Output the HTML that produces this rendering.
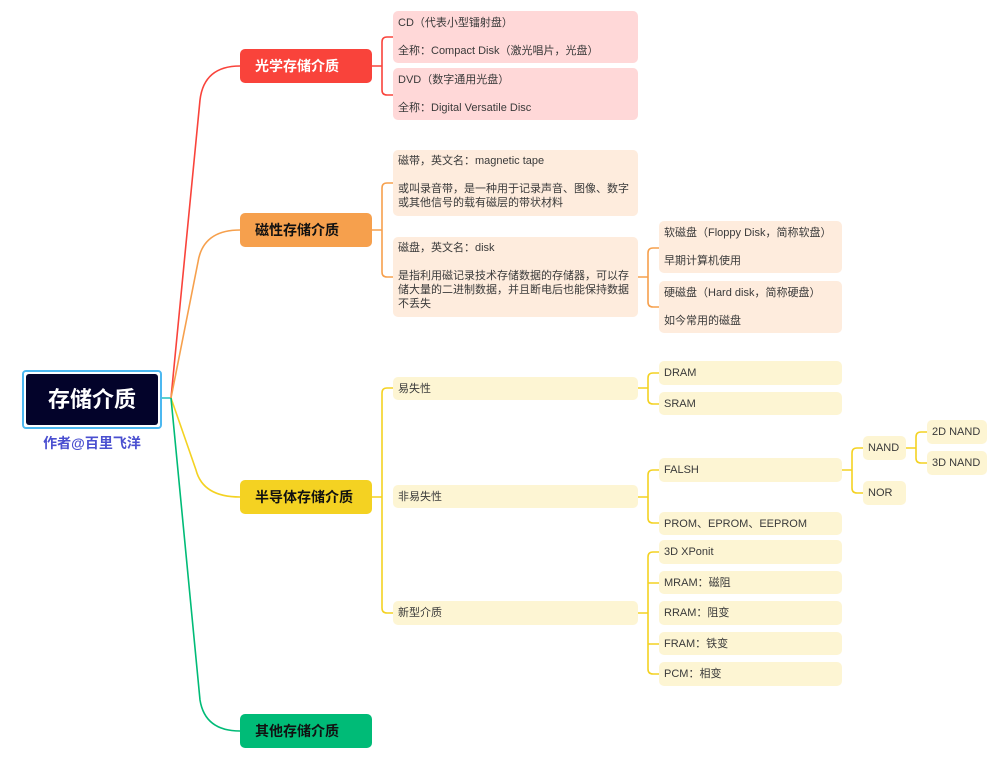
<!DOCTYPE html>
<html><head><meta charset="utf-8"><style>
body{margin:0;width:998px;height:758px;background:#fff;position:relative;overflow:hidden;font-family:"Liberation Sans","Noto Sans CJK SC",sans-serif;}
.b{position:absolute;border-radius:5px;box-sizing:border-box;font-size:11px;color:#3a3a3a;padding:0 0 0 5px;line-height:14px;}
.m{position:absolute;left:240px;width:132px;height:34px;border-radius:5px;font-size:14px;font-weight:bold;line-height:34px;padding-left:15px;box-sizing:border-box;}
.r{background:#ffd8d8}.o{background:#feecdd}.y{background:#fdf5d3;line-height:24px}
svg{position:absolute;left:0;top:0}
</style></head><body>
<svg width="998" height="758" fill="none" stroke-width="1.6">
<path d="M161,398 L171,398" stroke="#2ec4c4"/>
<path d="M171,398 L200,100 Q204,66 240,66" stroke="#f9433b"/>
<path d="M171,398 L198,262 Q203,230 240,230" stroke="#f6a04d"/>
<path d="M171,398 L196,470 Q203,497 240,497" stroke="#f4d222"/>
<path d="M171,398 L200,700 Q205,731 240,731" stroke="#00bb77"/>
<g stroke="#f9433b"><path d="M372,66 H382 M393,37 H387 Q382,37 382,42 V90 Q382,95 387,95 H393"/></g>
<g stroke="#f6a04d"><path d="M372,230 H382 M393,183 H387 Q382,183 382,188 V272 Q382,277 387,277 H393"/>
<path d="M638,277 H648 M659,248 H653 Q648,248 648,253 V302 Q648,307 653,307 H659"/></g>
<g stroke="#f4d222"><path d="M372,497 H382 M393,388 H387 Q382,388 382,393 V608 Q382,613 387,613 H393"/>
<path d="M638,388 H648 M659,373 H653 Q648,373 648,378 V399 Q648,404 653,404 H659"/>
<path d="M638,497 H648 M659,470 H653 Q648,470 648,475 V518 Q648,523 653,523 H659"/>
<path d="M842,470 H852 M863,448 H857 Q852,448 852,453 V488 Q852,493 857,493 H863"/>
<path d="M906,448 H916 M927,432 H921 Q916,432 916,437 V458 Q916,463 921,463 H927"/>
<path d="M638,613 H648 M659,552 H653 Q648,552 648,557 V669 Q648,674 653,674 H659 M648,583 Q648,583 659,583 M648,644 H659"/></g>
</svg>
<div style="position:absolute;left:22px;top:370px;width:140px;height:59px;border:2px solid #4cb8f0;border-radius:4px;box-sizing:border-box;padding:2px;background:#fff"><div style="background:#03032a;height:100%;border-radius:3px;color:#fff;font-size:22px;font-weight:bold;text-align:center;line-height:51px">存储介质</div></div>
<div style="position:absolute;left:22px;width:140px;top:433px;text-align:center;color:#4a4fd0;font-size:14px;font-weight:bold">作者@百里飞洋</div>
<div class="m" style="top:49px;background:#f9433b;color:#fff">光学存储介质</div>
<div class="m" style="top:213px;background:#f6a04d;color:#111">磁性存储介质</div>
<div class="m" style="top:480px;background:#f4d222;color:#111">半导体存储介质</div>
<div class="m" style="top:714px;background:#00bb77;color:#111">其他存储介质</div>
<div class="b r" style="left:393px;top:11px;width:245px;height:52px;padding-top:5px">CD（代表小型镭射盘）<br><br>全称：Compact Disk（激光唱片，光盘）</div>
<div class="b r" style="left:393px;top:68px;width:245px;height:52px;padding-top:5px">DVD（数字通用光盘）<br><br>全称：Digital Versatile Disc</div>
<div class="b o" style="left:393px;top:150px;width:245px;height:66px;padding-top:4px">磁带，英文名：magnetic tape<br><br>或叫录音带，是一种用于记录声音、图像、数字或其他信号的载有磁层的带状材料</div>
<div class="b o" style="left:393px;top:237px;width:245px;height:80px;padding-top:4px">磁盘，英文名：disk<br><br>是指利用磁记录技术存储数据的存储器，可以存储大量的二进制数据，并且断电后也能保持数据不丢失</div>
<div class="b o" style="left:659px;top:221px;width:183px;height:52px;padding-top:5px">软磁盘（Floppy Disk，简称软盘）<br><br>早期计算机使用</div>
<div class="b o" style="left:659px;top:281px;width:183px;height:52px;padding-top:5px">硬磁盘（Hard disk，简称硬盘）<br><br>如今常用的磁盘</div>
<div class="b y" style="left:393px;top:377px;width:245px;height:23px">易失性</div>
<div class="b y" style="left:393px;top:485px;width:245px;height:23px">非易失性</div>
<div class="b y" style="left:393px;top:601px;width:245px;height:24px">新型介质</div>
<div class="b y" style="left:659px;top:361px;width:183px;height:24px">DRAM</div>
<div class="b y" style="left:659px;top:392px;width:183px;height:23px">SRAM</div>
<div class="b y" style="left:659px;top:458px;width:183px;height:24px">FALSH</div>
<div class="b y" style="left:659px;top:512px;width:183px;height:23px">PROM、EPROM、EEPROM</div>
<div class="b y" style="left:863px;top:436px;width:43px;height:24px">NAND</div>
<div class="b y" style="left:863px;top:481px;width:43px;height:24px">NOR</div>
<div class="b y" style="left:927px;top:420px;width:60px;height:24px">2D NAND</div>
<div class="b y" style="left:927px;top:451px;width:60px;height:24px">3D NAND</div>
<div class="b y" style="left:659px;top:540px;width:183px;height:24px">3D XPonit</div>
<div class="b y" style="left:659px;top:571px;width:183px;height:23px">MRAM：磁阻</div>
<div class="b y" style="left:659px;top:601px;width:183px;height:24px">RRAM：阻变</div>
<div class="b y" style="left:659px;top:632px;width:183px;height:23px">FRAM：铁变</div>
<div class="b y" style="left:659px;top:662px;width:183px;height:24px">PCM：相变</div>
</body></html>
